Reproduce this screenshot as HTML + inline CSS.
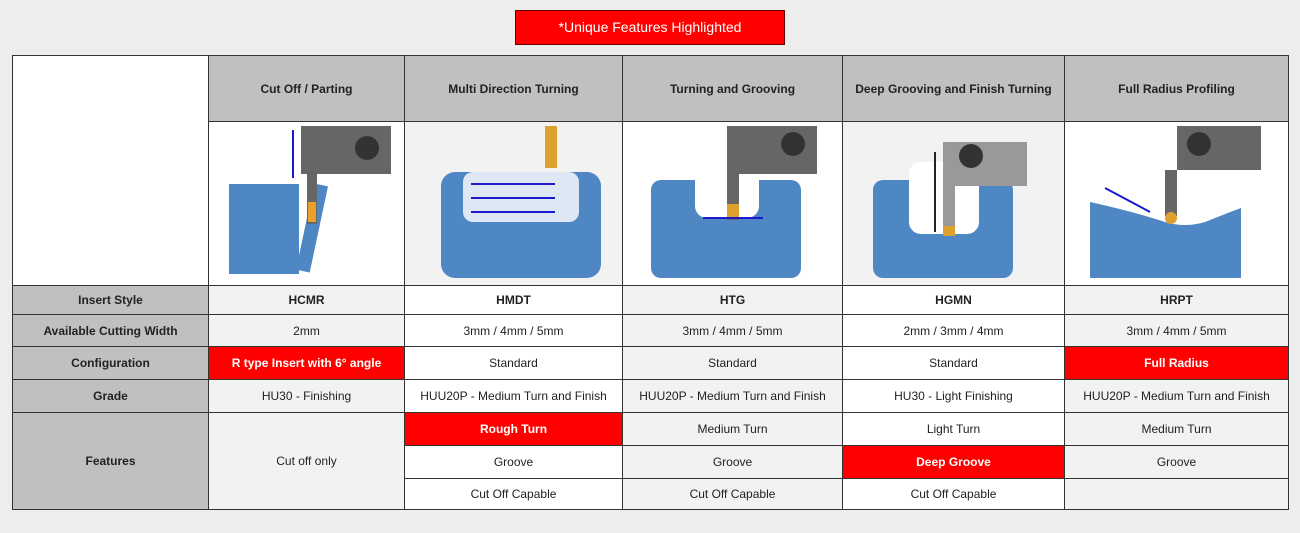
<!DOCTYPE html>
<html><head><meta charset="utf-8"><style>
body{margin:0;width:1300px;height:533px;background:#ededed;position:relative;overflow:hidden;font-family:"Liberation Sans",sans-serif;}
.t{position:absolute;left:515px;top:10px;width:268px;height:33px;background:#f00;border:1px solid #600;color:#fff;font-size:14px;line-height:33px;text-align:center}
table{position:absolute;left:12px;top:55px;border-collapse:collapse;font-size:12px;color:#222;table-layout:fixed;width:1276px}
td{border:1.5px solid #333;text-align:center;padding:0;overflow:hidden;white-space:nowrap}
.h{background:#c0c0c0;font-weight:bold;font-size:12px}
.l{background:#c0c0c0;font-weight:bold}
.g{background:#f2f2f2}.w{background:#fff}
.r{background:#f00;color:#fff;font-weight:bold}
.b{font-weight:bold}
</style></head><body>
<div class="t">*Unique Features Highlighted</div>
<table>
<colgroup><col style="width:196px"><col style="width:196px"><col style="width:218px"><col style="width:220px"><col style="width:222px"><col style="width:224px"></colgroup>
<tr style="height:66px"><td class="w" rowspan="2"></td><td class="h">Cut Off / Parting</td><td class="h">Multi Direction Turning</td><td class="h">Turning and Grooving</td><td class="h">Deep Grooving and Finish Turning</td><td class="h">Full Radius Profiling</td></tr>
<tr style="height:162px">
<td class="w"><svg width="196" height="160"><rect x="20" y="62" width="70" height="90" fill="#4f86c4"/><rect x="96" y="62" width="14" height="88" fill="#4f86c4" transform="rotate(12 103 106)"/><rect x="92" y="4" width="90" height="48" fill="#666"/><circle cx="158" cy="26" r="12" fill="#333"/><rect x="98" y="52" width="10" height="50" fill="#666"/><rect x="99" y="80" width="8" height="20" fill="#e8a030"/><line x1="84" y1="8" x2="84" y2="56" stroke="#1a1acc" stroke-width="2"/></svg></td>
<td class="g"><svg width="218" height="160"><rect x="36" y="50" width="160" height="106" rx="14" fill="#4f86c4"/><rect x="58" y="50" width="116" height="50" rx="10" fill="#dde8f4"/><rect x="140" y="4" width="12" height="42" fill="#e0a030"/><line x1="66" y1="62" x2="150" y2="62" stroke="#1a1acc" stroke-width="2"/><line x1="66" y1="76" x2="150" y2="76" stroke="#1a1acc" stroke-width="2"/><line x1="66" y1="90" x2="150" y2="90" stroke="#1a1acc" stroke-width="2"/></svg></td>
<td class="w"><svg width="220" height="160"><rect x="28" y="58" width="150" height="98" rx="10" fill="#4f86c4"/><rect x="72" y="44" width="64" height="52" rx="12" fill="#fff"/><rect x="104" y="4" width="90" height="48" fill="#666"/><circle cx="170" cy="22" r="12" fill="#333"/><rect x="104" y="52" width="12" height="46" fill="#666"/><rect x="104" y="82" width="12" height="14" fill="#e0a030"/><line x1="80" y1="96" x2="140" y2="96" stroke="#1a1acc" stroke-width="2"/></svg></td>
<td class="g"><svg width="222" height="160"><rect x="30" y="58" width="140" height="98" rx="10" fill="#4f86c4"/><rect x="66" y="40" width="70" height="72" rx="12" fill="#fff"/><rect x="100" y="20" width="84" height="44" fill="#999"/><circle cx="128" cy="34" r="12" fill="#333"/><rect x="100" y="50" width="12" height="62" fill="#999"/><rect x="100" y="104" width="12" height="10" fill="#e0a030"/><line x1="92" y1="30" x2="92" y2="110" stroke="#222" stroke-width="2"/></svg></td>
<td class="w"><svg width="224" height="160"><path d="M25 80 Q70 90 100 100 Q120 106 140 100 Q165 90 176 86 L176 156 L25 156Z" fill="#4f86c4"/><rect x="112" y="4" width="84" height="44" fill="#666"/><circle cx="134" cy="22" r="12" fill="#333"/><rect x="100" y="48" width="12" height="46" fill="#666"/><circle cx="106" cy="96" r="6" fill="#e0a030"/><line x1="40" y1="66" x2="85" y2="90" stroke="#1a1acc" stroke-width="2"/></svg></td>
</tr>
<tr style="height:29px"><td class="l">Insert Style</td><td class="g b">HCMR</td><td class="w b">HMDT</td><td class="g b">HTG</td><td class="w b">HGMN</td><td class="g b">HRPT</td></tr>
<tr style="height:32px"><td class="l">Available Cutting Width</td><td class="g">2mm</td><td class="w">3mm / 4mm / 5mm</td><td class="g">3mm / 4mm / 5mm</td><td class="w">2mm / 3mm / 4mm</td><td class="g">3mm / 4mm / 5mm</td></tr>
<tr style="height:33px"><td class="l">Configuration</td><td class="r">R type Insert with 6° angle</td><td class="w">Standard</td><td class="g">Standard</td><td class="w">Standard</td><td class="r">Full Radius</td></tr>
<tr style="height:33px"><td class="l">Grade</td><td class="g">HU30 - Finishing</td><td class="w">HUU20P - Medium Turn and Finish</td><td class="g">HUU20P - Medium Turn and Finish</td><td class="w">HU30 - Light Finishing</td><td class="g">HUU20P - Medium Turn and Finish</td></tr>
<tr style="height:33px"><td class="l" rowspan="3">Features</td><td class="g" rowspan="3">Cut off only</td><td class="r">Rough Turn</td><td class="g">Medium Turn</td><td class="w">Light Turn</td><td class="g">Medium Turn</td></tr>
<tr style="height:33px"><td class="w">Groove</td><td class="g">Groove</td><td class="r">Deep Groove</td><td class="g">Groove</td></tr>
<tr style="height:31px"><td class="w">Cut Off Capable</td><td class="g">Cut Off Capable</td><td class="w">Cut Off Capable</td><td class="g"></td></tr>
</table>
</body></html>
